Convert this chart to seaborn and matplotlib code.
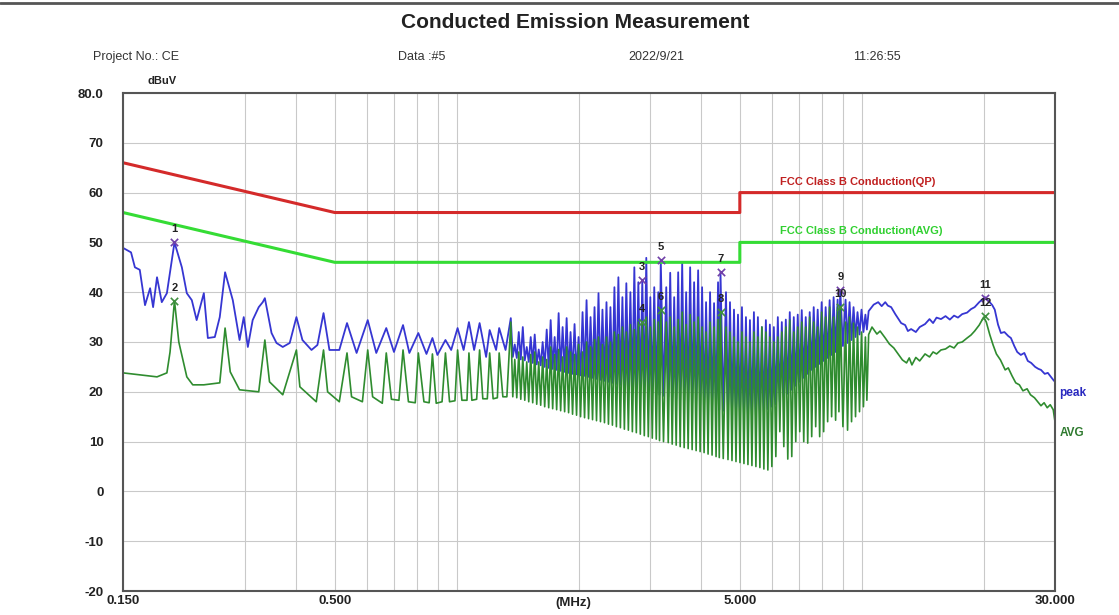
import numpy as np
import matplotlib
matplotlib.use("Agg")
import matplotlib.pyplot as plt
from matplotlib.lines import Line2D
import seaborn as sns

# ---- data (MHz, dBuV) ----
# limit lines
qp_mhz = [0.15, 0.5, 5.0, 5.0, 30.0]
qp_dbuv = [66, 56, 56, 60, 60]
avg_lim_mhz = [0.15, 0.5, 5.0, 5.0, 30.0]
avg_lim_dbuv = [56, 46, 46, 50, 50]

# low band peak trace (0.15 - 1.35 MHz)
peak_low_mhz = [0.150, 0.157, 0.1605, 0.165, 0.170, 0.175, 0.178, 0.182, 0.187, 0.1925,
                0.201, 0.2096, 0.2156, 0.2218, 0.228, 0.2375, 0.243, 0.2528, 0.260, 0.268,
                0.280, 0.291, 0.298, 0.305, 0.3135, 0.3245, 0.332, 0.336, 0.349, 0.359,
                0.372, 0.387, 0.402, 0.416, 0.438, 0.453, 0.469, 0.485, 0.513, 0.536,
                0.566, 0.603, 0.633, 0.670, 0.700, 0.737, 0.764, 0.804, 0.842, 0.871,
                0.896, 0.938, 0.969, 1.005, 1.040, 1.072, 1.104, 1.139, 1.182, 1.206,
                1.251, 1.273, 1.320]
peak_low_dbuv = [48.9, 48.0, 45.0, 44.5, 37.4, 40.8, 37.0, 43.0, 38.0, 39.8,
                 50.0, 45.0, 39.8, 38.4, 34.4, 39.8, 30.8, 31.0, 35.0, 44.0,
                 38.4, 30.4, 35.0, 29.0, 34.4, 37.0, 38.0, 38.8, 31.8, 29.8,
                 29.0, 29.8, 35.0, 30.4, 28.4, 29.4, 35.8, 28.4, 28.4, 33.8,
                 27.8, 34.4, 27.8, 32.8, 28.0, 33.4, 27.8, 31.8, 27.6, 30.8,
                 27.4, 30.4, 28.4, 32.8, 28.4, 34.0, 28.4, 33.8, 27.0, 32.4,
                 28.4, 32.8, 28.4]

# low band average trace
avg_low_mhz = [0.150, 0.165, 0.182, 0.1925, 0.196, 0.201, 0.206, 0.2156, 0.223, 0.2375,
               0.260, 0.268, 0.276, 0.291, 0.3245, 0.336, 0.345, 0.372, 0.402, 0.410,
               0.450, 0.469, 0.480, 0.513, 0.536, 0.550, 0.585, 0.603, 0.620, 0.655,
               0.670, 0.690, 0.720, 0.737, 0.760, 0.790, 0.804, 0.830, 0.855, 0.871,
               0.890, 0.920, 0.938, 0.960, 0.990, 1.005, 1.030, 1.060, 1.072, 1.090,
               1.120, 1.139, 1.160, 1.190, 1.206, 1.230, 1.260, 1.273, 1.300, 1.330]
avg_low_dbuv = [23.8, 23.4, 23.0, 23.8, 28.0, 38.3, 30.0, 23.0, 21.4, 21.4,
                21.8, 32.8, 24.0, 20.4, 20.0, 30.4, 22.0, 19.4, 28.4, 21.0,
                18.0, 28.4, 20.0, 18.0, 27.8, 19.0, 18.0, 28.4, 19.0, 17.7,
                27.8, 18.5, 18.3, 28.4, 18.0, 17.8, 27.8, 18.0, 17.8, 27.6,
                17.7, 18.0, 27.8, 18.0, 18.2, 28.4, 18.3, 18.3, 27.8, 18.3,
                18.5, 28.4, 18.6, 18.6, 27.8, 18.6, 18.8, 27.8, 19.0, 19.0]

# dense harmonic band (1.36 - 10.2 MHz): spike positions, tops and floors
spike_mhz = [1.360, 1.391, 1.423, 1.456, 1.489, 1.523, 1.558, 1.594, 1.630, 1.668,
             1.706, 1.745, 1.785, 1.826, 1.868, 1.910, 1.954, 1.999, 2.045, 2.092,
             2.140, 2.189, 2.239, 2.290, 2.343, 2.396, 2.451, 2.507, 2.565, 2.623,
             2.684, 2.745, 2.808, 2.872, 2.938, 3.006, 3.074, 3.145, 3.190, 3.291,
             3.366, 3.443, 3.522, 3.603, 3.685, 3.770, 3.856, 3.945, 4.035, 4.127,
             4.222, 4.319, 4.418, 4.480, 4.622, 4.728, 4.837, 4.948, 5.061, 5.177,
             5.296, 5.417, 5.541, 5.668, 5.798, 5.931, 6.067, 6.206, 6.348, 6.494,
             6.642, 6.795, 6.950, 7.110, 7.273, 7.439, 7.610, 7.784, 7.962, 8.145,
             8.331, 8.522, 8.717, 8.850, 9.121, 9.330, 9.544, 9.762, 9.986, 10.21]
peak_top = [34.8, 29.5, 32.0, 33.0, 29.0, 31.0, 31.5, 28.5, 30.0, 32.5,
            34.4, 31.0, 35.8, 33.0, 34.8, 32.0, 33.6, 31.0, 36.0, 38.4,
            35.0, 37.0, 39.8, 36.5, 38.0, 37.0, 41.0, 43.0, 39.0, 41.8,
            40.0, 45.0, 42.0, 42.5, 46.9, 39.0, 41.0, 40.0, 46.5, 41.0,
            43.9, 39.0, 44.0, 45.9, 40.0, 45.0, 42.0, 44.4, 41.0, 38.0,
            40.0, 37.8, 42.0, 44.0, 40.0, 38.0, 36.5, 35.5, 37.0, 35.0,
            34.4, 36.0, 35.0, 33.0, 34.4, 33.5, 33.0, 35.0, 34.0, 34.5,
            36.0, 35.0, 35.5, 36.4, 35.0, 36.0, 37.0, 36.5, 38.0, 37.0,
            38.4, 39.0, 38.5, 40.4, 38.5, 38.0, 37.0, 36.0, 36.5, 35.5]
peak_floor = [27.0, 26.8, 26.5, 26.3, 26.0, 25.8, 25.5, 25.3, 25.0, 24.8,
              24.6, 24.4, 24.2, 24.0, 23.8, 23.6, 23.5, 23.3, 23.2, 23.0,
              22.8, 22.6, 22.4, 22.2, 22.0, 21.8, 21.6, 21.4, 21.2, 21.0,
              20.8, 20.6, 20.4, 20.2, 20.0, 19.8, 19.6, 19.4, 19.2, 19.0,
              18.8, 18.6, 18.4, 18.2, 18.0, 17.8, 17.6, 17.4, 17.2, 17.0,
              16.8, 16.6, 16.4, 16.2, 16.0, 15.8, 15.6, 15.4, 15.2, 15.0,
              15.0, 15.2, 15.5, 16.0, 16.5, 17.0, 17.5, 18.0, 18.8, 19.6,
              20.4, 21.2, 22.0, 22.8, 23.6, 24.4, 25.0, 25.6, 26.2, 26.8,
              27.4, 28.0, 28.6, 29.2, 29.8, 30.4, 31.0, 31.5, 32.0, 32.5]
avg_top = [34.0, 26.5, 28.0, 27.0, 26.0, 27.5, 28.0, 26.0, 27.0, 26.5,
           29.0, 27.5, 28.5, 27.0, 29.0, 28.0, 27.5, 29.5, 28.0, 30.0,
           29.0, 30.5, 31.0, 29.5, 31.0, 30.0, 32.0, 31.5, 33.0, 32.0,
           33.5, 32.5, 34.0, 34.0, 35.0, 33.0, 34.5, 34.0, 36.5, 34.0,
           35.0, 33.0, 34.5, 36.0, 33.5, 35.5, 34.0, 35.0, 33.0, 32.0,
           34.0, 33.0, 34.5, 36.0, 33.0, 32.0, 31.0, 30.0, 32.0, 31.0,
           30.0, 32.0, 31.0, 33.0, 32.0, 31.0, 30.0, 31.0, 32.0, 33.0,
           34.4, 32.0, 33.0, 34.0, 33.0, 35.0, 34.0, 33.0, 36.0, 35.0,
           37.0, 35.0, 37.0, 37.0, 34.0, 35.0, 33.8, 33.0, 32.0, 31.0]
avg_floor = [19.0, 18.8, 18.5, 18.3, 18.0, 17.8, 17.5, 17.3, 17.0, 16.8,
             16.6, 16.4, 16.2, 16.0, 15.8, 15.5, 15.3, 15.0, 14.8, 14.6,
             14.4, 14.2, 14.0, 13.8, 13.5, 13.3, 13.0, 12.8, 12.5, 12.3,
             12.0, 11.8, 11.5, 11.2, 11.0, 10.7, 10.5, 10.2, 10.0, 9.8,
             9.5, 9.3, 9.0, 8.8, 8.6, 8.4, 8.2, 8.0, 7.8, 7.5,
             7.3, 7.0, 6.8, 6.6, 6.4, 6.2, 6.0, 5.8, 5.6, 5.4,
             5.2, 5.0, 4.8, 4.5, 4.3, 5.0, 7.0, 12.0, 9.0, 6.5,
             7.0, 10.0, 12.0, 10.0, 9.7, 11.0, 13.0, 11.0, 12.0, 14.0,
             15.0, 14.3, 16.0, 13.0, 12.3, 14.0, 15.0, 16.0, 17.0, 18.3]

# high band (10 - 30 MHz)
peak_high_mhz = [10.4, 10.7, 10.98, 11.2, 11.43, 11.6, 11.82, 12.1, 12.51, 12.8,
                 13.0, 13.24, 13.6, 13.9, 14.33, 14.7, 15.0, 15.3, 15.69, 16.1,
                 16.5, 16.9, 17.28, 17.7, 18.2, 18.61, 19.0, 19.5, 20.15, 20.6,
                 21.0, 21.3, 21.7, 22.06, 22.5, 23.0, 23.35, 23.8, 24.2, 24.7,
                 25.2, 25.7, 26.2, 26.8, 27.3, 27.7, 28.3, 28.8, 29.3, 29.7, 30.0]
peak_high_dbuv = [36.2, 37.5, 38.0, 37.2, 38.0, 37.3, 37.0, 35.6, 33.8, 33.4,
                  32.2, 32.6, 32.0, 33.0, 33.6, 34.6, 33.8, 34.9, 34.6, 35.2,
                  34.5, 35.3, 34.9, 35.6, 35.9, 36.6, 37.0, 38.0, 39.0, 38.2,
                  37.4, 36.5, 33.5, 31.8, 32.0, 31.2, 30.8, 29.2, 28.0, 27.4,
                  27.8, 26.2, 25.8, 25.0, 24.6, 24.4, 23.6, 23.8, 23.0, 22.4, 22.0]
avg_high_mhz = [10.4, 10.6, 10.9, 11.1, 11.43, 11.7, 12.0, 12.3, 12.6, 12.9,
                13.1, 13.3, 13.6, 13.9, 14.33, 14.7, 15.0, 15.3, 15.69, 16.1,
                16.5, 16.9, 17.28, 17.7, 18.2, 18.61, 19.0, 19.5, 20.0, 20.3,
                20.7, 21.1, 21.5, 22.0, 22.6, 23.0, 23.5, 24.0, 24.5, 25.0,
                25.6, 26.1, 26.7, 27.2, 27.7, 28.2, 28.7, 29.2, 29.7, 30.0]
avg_high_dbuv = [31.5, 33.0, 31.6, 32.2, 30.8, 29.6, 28.8, 27.6, 26.4, 25.8,
                 26.8, 25.4, 26.9, 26.2, 27.6, 27.0, 28.0, 27.6, 28.4, 28.6,
                 29.2, 28.8, 29.8, 30.0, 30.8, 31.4, 32.2, 33.4, 35.0, 34.0,
                 31.5, 29.4, 27.6, 26.4, 24.4, 24.8, 23.2, 21.8, 21.4, 20.2,
                 20.6, 19.4, 18.8, 18.0, 17.2, 17.8, 16.8, 17.4, 16.4, 14.0]

# marked points
marker_ids = ["1", "2", "3", "4", "5", "6", "7", "8", "9", "10", "11", "12"]
marker_mhz = [0.201, 0.201, 2.872, 2.872, 3.19, 3.19, 4.48, 4.48, 8.85, 8.85, 20.15, 20.15]
marker_dbuv = [50.0, 38.3, 42.5, 34.0, 46.5, 36.5, 44.0, 36.0, 40.4, 37.0, 38.8, 35.2]

y_ticks = [80, 70, 60, 50, 40, 30, 20, 10, 0, -10, -20]
y_tick_labels = ["80.0", "70", "60", "50", "40", "30", "20", "10", "0", "-10", "-20"]
x_ticks = [0.15, 0.5, 5.0, 30.0]
x_tick_labels = ["0.150", "0.500", "5.000", "30.000"]
x_grid = [0.3, 0.4, 0.5, 0.6, 0.7, 0.8, 0.9, 1, 2, 3, 4, 5, 6, 7, 8, 9, 10, 20]


def zigzag(top, floor):
    f, v = [], []
    for i, s in enumerate(spike_mhz):
        nxt = spike_mhz[i + 1] if i + 1 < len(spike_mhz) else s * 1.017
        f += [s, np.sqrt(s * nxt)]
        v += [top[i], floor[i]]
    return f, v


pk_f, pk_v = zigzag(peak_top, peak_floor)
av_f, av_v = zigzag(avg_top, avg_floor)
peak_mhz = peak_low_mhz + pk_f + peak_high_mhz
peak_dbuv = peak_low_dbuv + pk_v + peak_high_dbuv
avg_mhz = avg_low_mhz + av_f + avg_high_mhz
avg_dbuv = avg_low_dbuv + av_v + avg_high_dbuv

sns.set_style("white")
plt.rcParams['font.family'] = ['Liberation Sans', 'DejaVu Sans']

fig = plt.figure(figsize=(11.19, 6.15), dpi=100)
ax = fig.add_axes([123 / 1119, 1 - 591 / 615, 932 / 1119, 498 / 615])

# traces
sns.lineplot(x=peak_mhz, y=peak_dbuv, ax=ax, color="#3636d2", lw=1.3,
             estimator=None, sort=False)
sns.lineplot(x=avg_mhz, y=avg_dbuv, ax=ax, color="#2f8c2f", lw=1.2,
             estimator=None, sort=False)
sns.lineplot(x=qp_mhz, y=qp_dbuv, ax=ax, color="#d42a2a", lw=2.2,
             estimator=None, sort=False)
sns.lineplot(x=avg_lim_mhz, y=avg_lim_dbuv, ax=ax, color="#35dc35", lw=2.2,
             estimator=None, sort=False)

# markers
for i, (lab, f, v) in enumerate(zip(marker_ids, marker_mhz, marker_dbuv)):
    col = "#7040a8" if i % 2 == 0 else "#3f8f3f"
    ax.scatter([f], [v], marker="x", s=28, color=col, lw=1.2, zorder=5)
    ax.text(f, v + 1.6, lab, ha="center", va="bottom", fontsize=8,
            fontweight="bold", color="#222222", zorder=6)

ax.set_xscale("log")
ax.set_xlim(0.15, 30)
ax.set_ylim(-20, 80)
ax.set_xticks(x_ticks)
ax.set_xticklabels(x_tick_labels)
ax.set_xticks(x_grid, minor=True)
ax.set_xticklabels([], minor=True)
ax.set_yticks(y_ticks)
ax.set_yticklabels(y_tick_labels)
ax.tick_params(axis="both", which="both", length=0)
ax.tick_params(axis="x", pad=3, labelsize=9.5)
ax.tick_params(axis="y", pad=14, labelsize=9.5)
for t in ax.get_xticklabels() + ax.get_yticklabels():
    t.set_fontweight("bold")
    t.set_color("#222222")
ax.grid(True, which="both", color="#c9c9c9", lw=0.8)
for sp in ax.spines.values():
    sp.set_color("#555555")
    sp.set_linewidth(1.5)

# labels on the plot
ax.text(6.3, 61.2, "FCC Class B Conduction(QP)", color="#c02020", fontsize=8,
        fontweight="bold", va="bottom")
ax.text(6.3, 51.2, "FCC Class B Conduction(AVG)", color="#30d030", fontsize=8,
        fontweight="bold", va="bottom")
ax.text(1.005, 0.398, "peak", transform=ax.transAxes, color="#2a2ac0",
        fontsize=8.5, fontweight="bold", va="center")
ax.text(1.005, 0.318, "AVG", transform=ax.transAxes, color="#2f7a2f",
        fontsize=8.5, fontweight="bold", va="center")
ax.text(1.94, -21.3, "(MHz)", ha="center", va="top", fontsize=9.5,
        fontweight="bold", color="#222222")

# header
fig.add_artist(Line2D([0, 1], [1 - 3 / 615, 1 - 3 / 615], color="#555555", lw=2))
fig.text(0.514, 1 - 22 / 615, "Conducted Emission Measurement", ha="center",
         va="center", fontsize=15, fontweight="bold", color="#222222")
header_y = 1 - 57 / 615
fig.text(93 / 1119, header_y, "Project No.: CE", va="center", fontsize=9, color="#333333")
fig.text(398 / 1119, header_y, "Data :#5", va="center", fontsize=9, color="#333333")
fig.text(628 / 1119, header_y, "2022/9/21", va="center", fontsize=9, color="#333333")
fig.text(853 / 1119, header_y, "11:26:55", va="center", fontsize=9, color="#333333")
fig.text(148 / 1119, 1 - 81 / 615, "dBuV", va="center", fontsize=8,
         fontweight="bold", color="#222222")

fig.savefig("out.png", dpi=100)
